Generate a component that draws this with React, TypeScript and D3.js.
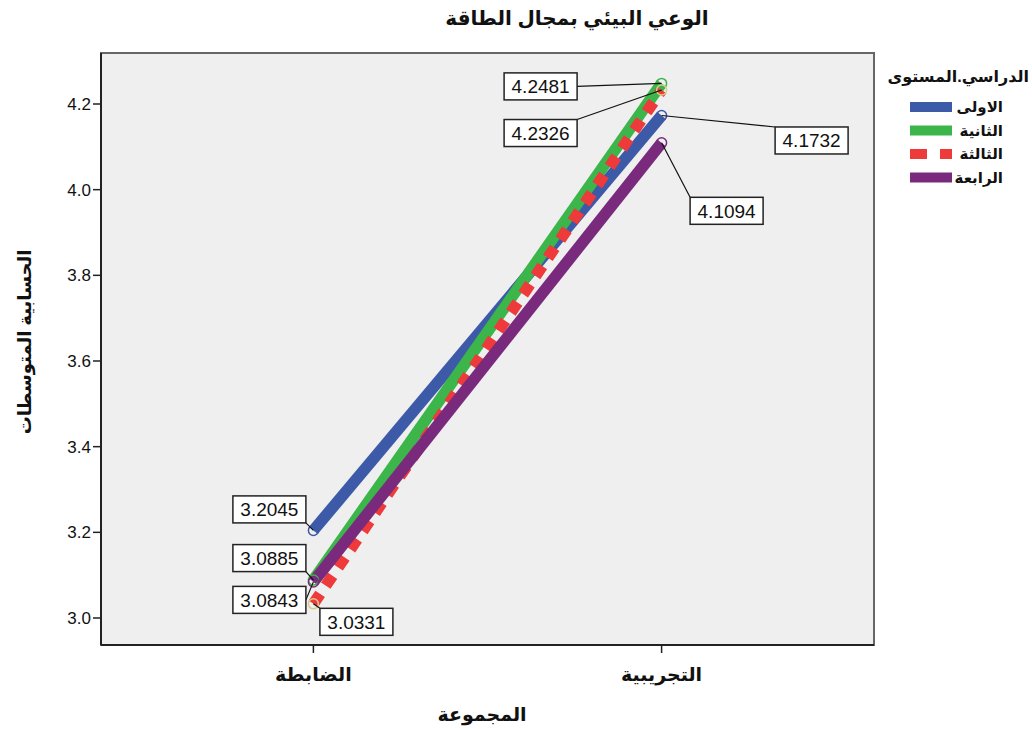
import React from "react";
import * as d3 from "d3";

// Groups along the x axis
const groups = ["الضابطة", "التجريبية"];
// Study levels (legend series)
const levels = ["الاولى", "الثانية", "الثالثة", "الرابعة"];
// Mean score per level, for each group [control, experimental]
const meansLevel1 = [3.2045, 4.1732];
const meansLevel2 = [3.0885, 4.2481];
const meansLevel3 = [3.0331, 4.2326];
const meansLevel4 = [3.0843, 4.1094];
const yTicks = [3.0, 3.2, 3.4, 3.6, 3.8, 4.0, 4.2];

const seriesValues = [meansLevel1, meansLevel2, meansLevel3, meansLevel4];

const title = "الوعي البيئي بمجال الطاقة";
const xTitle = "المجموعة";
const yTitle = "الحسابية المتوسطات";
const legendTitle = "الدراسي.المستوى";

// Styling per series
const lineColors = ["#3d5aa8", "#3cb54a", "#ee3a3a", "#7a2a7d"];
const markerColors = ["#3d5aa8", "#3cb54a", "#d8cc88", "#7a2a7d"];
const dashes = [null, null, "12 10", null];
const drawOrder = [0, 1, 2, 3];

// Value-label placement: box center offset from point, and where the leader meets the box
// [series][group] -> { dx, dy, ax, ay }
const labelLayout = [
  [
    { dx: -44, dy: -21, ax: 1, ay: 1 },
    { dx: 150, dy: 25, ax: -1, ay: -1 },
  ],
  [
    { dx: -44, dy: -22, ax: 1, ay: 1 },
    { dx: -121, dy: 3, ax: 1, ay: 0 },
  ],
  [
    { dx: 43, dy: 18, ax: -1, ay: -1 },
    { dx: -121, dy: 43, ax: 1, ay: -1 },
  ],
  [
    { dx: -44, dy: 18, ax: 1, ay: 0 },
    { dx: 65, dy: 68, ax: -1, ay: -1 },
  ],
];

const FONT = "'Liberation Sans', Arial, 'DejaVu Sans', sans-serif";

export default function App() {
  const W = 1032;
  const H = 729;
  const plot = { left: 101, top: 53, right: 874, bottom: 645 };

  const x = d3
    .scalePoint<string>()
    .domain(groups)
    .range([plot.left, plot.right])
    .padding(0.61);
  const y = d3
    .scaleLinear()
    .domain([3.0, 4.2])
    .range([618, 104]);

  const line = d3
    .line<number>()
    .x((_, i) => x(groups[i]) as number)
    .y((d) => y(d));

  const boxW = 73;
  const boxH = 27;

  return (
    <svg
      width={W}
      height={H}
      style={{ position: "absolute", left: 0, top: 0, background: "#fff" }}
      fontFamily={FONT}
    >
      {/* title */}
      <text x={577} y={25} textAnchor="middle" fontSize={20} fontWeight="bold" fill="#111">
        {title}
      </text>

      {/* plot background and frame */}
      <rect
        x={plot.left}
        y={plot.top}
        width={plot.right - plot.left}
        height={plot.bottom - plot.top}
        fill="#efefef"
        stroke="#666"
        strokeWidth={2}
      />
      <line x1={plot.left} x2={plot.left} y1={plot.top} y2={plot.bottom} stroke="#222" strokeWidth={2} />
      <line x1={plot.left} x2={plot.right} y1={plot.bottom} y2={plot.bottom} stroke="#222" strokeWidth={2} />

      {/* y axis */}
      {yTicks.map((t) => (
        <g key={t}>
          <line x1={plot.left - 8} x2={plot.left} y1={y(t)} y2={y(t)} stroke="#222" strokeWidth={1.5} />
          <text x={plot.left - 10} y={y(t) + 6} textAnchor="end" fontSize={17} fill="#111">
            {d3.format(".1f")(t)}
          </text>
        </g>
      ))}

      {/* x axis */}
      {groups.map((g) => (
        <g key={g}>
          <line x1={x(g)} x2={x(g)} y1={plot.bottom} y2={plot.bottom + 8} stroke="#222" strokeWidth={1.5} />
          <text x={x(g)} y={plot.bottom + 36} textAnchor="middle" fontSize={19} fontWeight="bold" fill="#111">
            {g}
          </text>
        </g>
      ))}
      <text x={482} y={721} textAnchor="middle" fontSize={19} fontWeight="bold" fill="#111">
        {xTitle}
      </text>
      <text
        transform={`translate(31, 342) rotate(-90)`}
        textAnchor="middle"
        fontSize={18}
        fontWeight="bold"
        fill="#111"
      >
        {yTitle}
      </text>

      {/* series lines */}
      {drawOrder.map((s) => (
        <path
          key={`l${s}`}
          d={line(seriesValues[s]) as string}
          fill="none"
          stroke={lineColors[s]}
          strokeWidth={11.5}
          strokeDasharray={dashes[s] ?? undefined}
        />
      ))}
      {/* endpoint markers */}
      {drawOrder.map((s) =>
        seriesValues[s].map((v, i) => (
          <circle
            key={`m${s}-${i}`}
            cx={x(groups[i])}
            cy={y(v)}
            r={5}
            fill="none"
            stroke={markerColors[s]}
            strokeWidth={1.5}
          />
        ))
      )}

      {/* value labels */}
      {seriesValues.map((vals, s) =>
        vals.map((v, i) => {
          const px = x(groups[i]) as number;
          const py = y(v);
          const L = labelLayout[s][i];
          const cx = px + L.dx;
          const cy = py + L.dy;
          const ex = cx + (L.ax * boxW) / 2;
          const ey = cy + (L.ay * boxH) / 2;
          return (
            <g key={`lab${s}-${i}`}>
              <line x1={px} y1={py} x2={ex} y2={ey} stroke="#111" strokeWidth={1.2} />
              <rect
                x={cx - boxW / 2}
                y={cy - boxH / 2}
                width={boxW}
                height={boxH}
                fill="#fff"
                stroke="#222"
                strokeWidth={1.5}
              />
              <text x={cx} y={cy + 7} textAnchor="middle" fontSize={19} fill="#111">
                {d3.format(".4f")(v)}
              </text>
            </g>
          );
        })
      )}

      {/* legend */}
      <text x={1029} y={82} textAnchor="end" fontSize={16} fontWeight="bold" fill="#111">
        {legendTitle}
      </text>
      {levels.map((lv, s) => {
        const ly = 107 + s * 23.5;
        return (
          <g key={lv}>
            <line
              x1={910}
              x2={952}
              y1={ly}
              y2={ly}
              stroke={lineColors[s]}
              strokeWidth={10}
              strokeDasharray={s === 2 ? "17 13" : undefined}
            />
            <text x={1003} y={ly + 5} textAnchor="end" fontSize={15} fontWeight="bold" fill="#111">
              {lv}
            </text>
          </g>
        );
      })}
    </svg>
  );
}
